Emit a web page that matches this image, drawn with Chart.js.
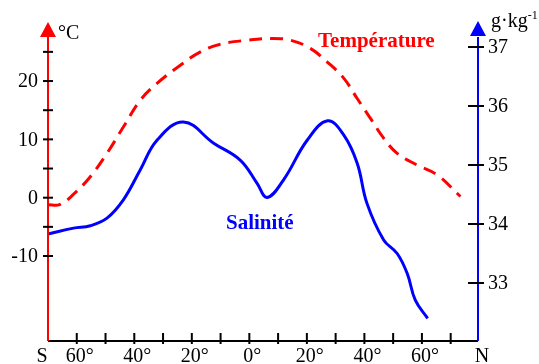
<!DOCTYPE html>
<html><head><meta charset="utf-8">
<script src="https://cdn.jsdelivr.net/npm/chart.js@4/dist/chart.umd.min.js"></script>
<style>html,body{margin:0;padding:0;background:#fff}#wrap{width:539px;height:364px;position:relative}</style>
</head><body><div id="wrap"><canvas id="c" width="539" height="364"></canvas></div>
<script>
// Latitude in degrees (south negative, north positive)
const latTemp = [-70, -66, -61.1, -55.3, -49.5, -43.7, -37.9, -32.1, -24.0, -17.0, -10.1, -0.8, 7.3, 14.3, 21.2, 27.0, 32.8, 37.5, 42.1, 46.7, 51.4, 58.3, 65.3, 73.4];
const temperature = [-1.2, -1.2, 0.6, 3.6, 7.6, 12.2, 16.7, 19.6, 22.7, 25.0, 26.3, 27.0, 27.3, 27.0, 25.6, 23.3, 20.5, 17.0, 13.6, 10.2, 7.6, 5.6, 3.9, 0.2];
const latSal = [-70, -61.1, -55.3, -49.5, -43.8, -37.9, -32.1, -22.9, -12.4, -3.1, 2.7, 6.2, 11.9, 20.1, 27.2, 32.8, 37.5, 40.9, 46.7, 51.4, 54.9, 57.7, 62.0];
const salinity = [33.83, 33.93, 33.97, 34.10, 34.41, 34.92, 35.42, 35.73, 35.37, 35.08, 34.69, 34.45, 34.75, 35.42, 35.75, 35.51, 35.03, 34.35, 33.73, 33.50, 33.16, 32.71, 32.40];
const tempTicks = [-10, -5, 0, 5, 10, 15, 20, 25];
const tempLabels = [-10, 0, 10, 20];
const salTicks = [33, 34, 35, 36, 37];
const latTicks = [-60, -50, -40, -30, -20, -10, 0, 10, 20, 30, 40, 50, 60, 70];
const latLabels = [-60, -40, -20, 0, 20, 40, 60];

const SERIF = '"Liberation Serif", "DejaVu Serif", serif';

const axesPlugin = {
  id: 'axesPlugin',
  afterDatasetsDraw(chart) {
    const ctx = chart.ctx;
    const a = chart.chartArea;
    const xs = chart.scales.x, yt = chart.scales.yT, ys = chart.scales.yS;
    const x0 = a.left, x1 = a.right, yb = a.bottom, yTop = a.top;
    ctx.save();
    // bottom axis
    ctx.strokeStyle = '#000'; ctx.lineWidth = 2;
    ctx.beginPath(); ctx.moveTo(x0, yb); ctx.lineTo(x1, yb); ctx.stroke();
    latTicks.forEach(v => {
      const x = xs.getPixelForValue(v);
      ctx.beginPath(); ctx.moveTo(x, yb - 8); ctx.lineTo(x, yb + 3); ctx.stroke();
    });
    ctx.fillStyle = '#000';
    ctx.font = '20px ' + SERIF;
    ctx.textAlign = 'center'; ctx.textBaseline = 'alphabetic';
    latLabels.forEach(v => {
      ctx.fillText(Math.abs(v) + '°', xs.getPixelForValue(v) + 3, 362);
    });
    ctx.fillText('S', x0 - 6, 362);
    ctx.fillText('N', x1 + 4, 362);
    // left axis (temperature)
    ctx.strokeStyle = '#ff0000'; ctx.lineWidth = 2;
    ctx.beginPath(); ctx.moveTo(x0, yb); ctx.lineTo(x0, yTop); ctx.stroke();
    ctx.fillStyle = '#ff0000';
    ctx.beginPath(); ctx.moveTo(x0 - 8, yTop); ctx.lineTo(x0 + 8, yTop); ctx.lineTo(x0, yTop - 15); ctx.closePath(); ctx.fill();
    ctx.strokeStyle = '#000';
    tempTicks.forEach(v => {
      const y = yt.getPixelForValue(v);
      ctx.beginPath(); ctx.moveTo(x0 - 5, y); ctx.lineTo(x0 + 5, y); ctx.stroke();
    });
    ctx.fillStyle = '#000';
    ctx.textAlign = 'right'; ctx.textBaseline = 'middle';
    tempLabels.forEach(v => ctx.fillText(String(v), x0 - 10, yt.getPixelForValue(v) + 1));
    ctx.textAlign = 'left'; ctx.textBaseline = 'alphabetic';
    ctx.fillText('°C', x0 + 10, 39);
    // right axis (salinity)
    ctx.strokeStyle = '#0000ff'; ctx.lineWidth = 2;
    ctx.beginPath(); ctx.moveTo(x1, yb); ctx.lineTo(x1, yTop); ctx.stroke();
    ctx.fillStyle = '#0000ff';
    ctx.beginPath(); ctx.moveTo(x1 - 8, yTop - 1); ctx.lineTo(x1 + 8, yTop - 1); ctx.lineTo(x1, yTop - 16); ctx.closePath(); ctx.fill();
    ctx.strokeStyle = '#000';
    salTicks.forEach(v => {
      const y = ys.getPixelForValue(v);
      ctx.beginPath(); ctx.moveTo(x1 - 10, y); ctx.lineTo(x1 + 6, y); ctx.stroke();
    });
    ctx.fillStyle = '#000';
    ctx.textAlign = 'left'; ctx.textBaseline = 'middle';
    salTicks.forEach(v => ctx.fillText(String(v), x1 + 10, ys.getPixelForValue(v) + 1));
    ctx.textBaseline = 'alphabetic';
    ctx.font = '20px ' + SERIF;
    ctx.fillText('g·kg', x1 + 13, 27);
    const w = ctx.measureText('g·kg').width;
    ctx.font = '12px ' + SERIF;
    ctx.fillText('-1', x1 + 13 + w, 19);
    // series titles
    ctx.font = 'bold 21px ' + SERIF;
    ctx.fillStyle = '#ff0000';
    ctx.fillText('Température', 318, 47);
    ctx.fillStyle = '#0000ff';
    ctx.fillText('Salinité', 226, 229);
    ctx.restore();
  }
};

const tempData = latTemp.map((x, i) => ({x: x, y: temperature[i]}));
const salData = latSal.map((x, i) => ({x: x, y: salinity[i]}));

new Chart(document.getElementById('c'), {
  type: 'scatter',
  data: {
    datasets: [
      {label: 'Température', data: tempData, yAxisID: 'yT', showLine: true, borderColor: '#ff0000',
       borderWidth: 3, borderDash: [13, 8], pointRadius: 0, tension: 0.4, fill: false, clip: false},
      {label: 'Salinité', data: salData, yAxisID: 'yS', showLine: true, borderColor: '#0000ff',
       borderWidth: 3, pointRadius: 0, tension: 0.4, fill: false, clip: false}
    ]
  },
  options: {
    responsive: false,
    animation: false,
    devicePixelRatio: 1,
    layout: {padding: {left: 48, right: 61, top: 37, bottom: 23}},
    plugins: {legend: {display: false}, tooltip: {enabled: false}},
    scales: {
      x: {type: 'linear', min: -70, max: 79.5, display: false},
      yT: {type: 'linear', position: 'left', min: -24.57, max: 27.55, display: false},
      yS: {type: 'linear', position: 'right', min: 32.017, max: 37.17, display: false}
    }
  },
  plugins: [axesPlugin]
});
</script></body></html>
